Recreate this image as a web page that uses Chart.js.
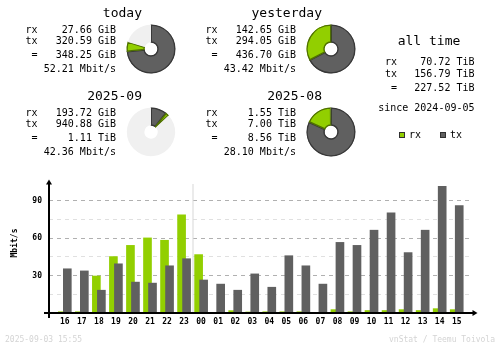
<!DOCTYPE html>
<html>
<head>
<meta charset="utf-8">
<script src="https://cdn.jsdelivr.net/npm/chart.js@4"></script>
<style>
  body { margin: 0; background: #fff; }
  #page { position: relative; width: 500px; height: 348px; background: #fff; overflow: hidden; }
  #page canvas { position: absolute; }
  .txt { position: absolute; white-space: pre; line-height: 1; font-family: "DejaVu Sans Mono", monospace; color: #000; }
  .key { position: absolute; width: 4px; height: 4px; border: 1px solid #303030; }
</style>
</head>
<body>
<div id="page">
  <canvas id="rateChart" width="500" height="348" style="left:0;top:0"></canvas>
</div>
<script>
// hourly rates, Mbit/s
const hours = ['16', '17', '18', '19', '20', '21', '22', '23', '00', '01', '02', '03',
               '04', '05', '06', '07', '08', '09', '10', '11', '12', '13', '14', '15'];
const rxMbit = [1, 1, 29.7, 45.3, 54.3, 60.3, 58.4, 78.8, 46.9, 0, 1.9, 0.8,
                1, 1, 1, 0, 2.7, 1, 2, 2, 2.7, 2, 3.5, 2.7];
const txMbit = [35.5, 33.8, 18.3, 39.5, 24.8, 24, 37.9, 43.6, 26.5, 23.2, 18.3, 31.4,
                20.7, 46, 37.9, 23.2, 56.7, 54.3, 66.5, 80.4, 48.5, 66.5, 101.7, 86.2];
const yTicks = [15, 30, 45, 60, 75, 90];
const yLabelled = [30, 60, 90];

// summary panels
const periodTitles = ['today', 'yesterday', '2025-09', '2025-08'];
const periodRx = ['27.66 GiB', '142.65 GiB', '193.72 GiB', '1.55 TiB'];
const periodTx = ['320.59 GiB', '294.05 GiB', '940.88 GiB', '7.00 TiB'];
const periodTotal = ['348.25 GiB', '436.70 GiB', '1.11 TiB', '8.56 TiB'];
const periodRate = ['52.21 Mbit/s', '43.42 Mbit/s', '42.36 Mbit/s', '28.10 Mbit/s'];

const allTimeRx = '70.72 TiB';
const allTimeTx = '156.79 TiB';
const allTimeTotal = '227.52 TiB';
const allTimeSince = '2024-09-05';
const stamp = '2025-09-03 15:55';
const credit = 'vnStat / Teemu Toivola';

const RX_COLOR = '#92cf00';
const TX_COLOR = '#606060';
const MONO = '"DejaVu Sans Mono", monospace';

const page = document.getElementById('page');

// place a text; align: left / center / right at x, y is the vertical middle
const addText = (text, x, y, size, align = 'left', color = '#000', weight = 'normal') => {
    const el = document.createElement('div');
    el.className = 'txt';
    el.textContent = text;
    el.style.fontSize = size + 'px';
    el.style.fontWeight = weight;
    el.style.color = color;
    el.style.top = y + 'px';
    el.style.left = x + 'px';
    const dx = align === 'right' ? '-100%' : align === 'center' ? '-50%' : '0';
    el.style.transform = `translate(${dx}, -50%)`;
    page.appendChild(el);
};

const toGiB = (s) => {
    const [num, unit] = s.split(' ');
    return parseFloat(num) * (unit === 'TiB' ? 1024 : 1);
};

// --- summary blocks with doughnuts ---
const panelPos = [[0, 0], [180, 0], [0, 83], [180, 83]];

periodTitles.forEach((title, i) => {
    const [px, py] = panelPos[i];
    addText(title, px + 142, py + 12, 13, 'right');
    addText('rx', px + 37.5, py + 29.5, 10, 'right');
    addText('tx', px + 37.5, py + 41, 10, 'right');
    addText('=', px + 37.5, py + 54.5, 10, 'right');
    addText(periodRx[i], px + 116, py + 29.5, 10, 'right');
    addText(periodTx[i], px + 116, py + 41, 10, 'right');
    addText(periodTotal[i], px + 116, py + 54.5, 10, 'right');
    addText(periodRate[i], px + 116, py + 69, 10, 'right');

    // each pair (days, months) is drawn against the bigger total of the two
    const first = i - (i % 2);
    const ref = Math.max(toGiB(periodTotal[first]), toGiB(periodTotal[first + 1]));
    const tx = toGiB(periodTx[i]);
    const rx = toGiB(periodRx[i]);

    const cv = document.createElement('canvas');
    cv.width = 52;
    cv.height = 52;
    cv.style.left = (px + 150.7 - 26) + 'px';
    cv.style.top = (py + 48.8 - 26) + 'px';
    page.appendChild(cv);

    new Chart(cv, {
        type: 'doughnut',
        data: {
            labels: ['tx', 'rx', ''],
            datasets: [{
                data: [tx, rx, Math.max(ref - tx - rx, 0)],
                backgroundColor: [TX_COLOR, RX_COLOR, '#f0f0f0'],
                borderColor: ['#383838', '#4f7000', '#f0f0f0'],
                borderWidth: [1, 1, 0],
                borderAlign: 'inner'
            }]
        },
        options: {
            responsive: false,
            animation: false,
            devicePixelRatio: 1,
            events: [],
            radius: 24.5,
            cutout: 6.7,
            plugins: { legend: { display: false }, tooltip: { enabled: false } }
        }
    });
});

// all time block
addText('all time', 429, 39.5, 13, 'center');
addText('rx', 397, 61.7, 10, 'right');
addText('tx', 397, 74, 10, 'right');
addText('=', 397, 87.5, 10, 'right');
addText(allTimeRx, 474.5, 61.7, 10, 'right');
addText(allTimeTx, 474.5, 74, 10, 'right');
addText(allTimeTotal, 474.5, 87.5, 10, 'right');
addText('since ' + allTimeSince, 474.5, 107.7, 10, 'right');

// legend
[['rx', RX_COLOR, 399], ['tx', TX_COLOR, 440]].forEach(([name, color, x]) => {
    const sq = document.createElement('div');
    sq.className = 'key';
    sq.style.left = x + 'px';
    sq.style.top = '132px';
    sq.style.background = color;
    page.appendChild(sq);
    addText(name, x + 10, 135, 10, 'left');
});

// footer
addText(stamp, 5, 340, 8, 'left', '#d4d4d4');
addText(credit, 495, 340, 8, 'right', '#d4d4d4');

// --- hourly bar chart ---
const axisDecor = {
    id: 'axisDecor',
    beforeDatasetsDraw(chart) {
        // light day separator between 23 and 00
        const { ctx, chartArea, scales } = chart;
        const sep = scales.x.getPixelForValue(hours.indexOf('00') - 0.5);
        ctx.save();
        ctx.fillStyle = '#d8d8d8';
        ctx.fillRect(Math.round(sep) - 0.5, chartArea.top + 3, 1, chartArea.bottom - chartArea.top - 3);
        ctx.restore();
    },
    afterDraw(chart) {
        const { ctx, chartArea } = chart;
        const left = chartArea.left - 1;
        const bottom = chartArea.bottom - 1;
        ctx.save();
        ctx.fillStyle = '#000';
        ctx.fillRect(left, chartArea.top + 2, 2, bottom - chartArea.top + 2 + 4 - 2);
        ctx.fillRect(left - 4, bottom, chartArea.right - left + 4, 2);
        // arrow heads
        ctx.beginPath();
        ctx.moveTo(left + 1, chartArea.top - 1.5);
        ctx.lineTo(left - 2, chartArea.top + 3.5);
        ctx.lineTo(left + 4, chartArea.top + 3.5);
        ctx.closePath();
        ctx.fill();
        ctx.beginPath();
        ctx.moveTo(chartArea.right + 4.5, bottom + 1);
        ctx.lineTo(chartArea.right - 0.5, bottom - 2);
        ctx.lineTo(chartArea.right - 0.5, bottom + 4);
        ctx.closePath();
        ctx.fill();
        // y title
        ctx.translate(15, 243);
        ctx.rotate(-Math.PI / 2);
        ctx.font = 'bold 8px ' + MONO;
        ctx.textAlign = 'center';
        ctx.textBaseline = 'middle';
        ctx.fillText('Mbit/s', 0, 0);
        ctx.restore();
    }
};

const barShift = 0.147; // rx sits a little left of the hour, tx a little right

new Chart(document.getElementById('rateChart'), {
    type: 'bar',
    data: {
        datasets: [{
            label: 'rx',
            data: rxMbit.map((v, i) => ({ x: i - barShift, y: v })),
            backgroundColor: RX_COLOR,
            barThickness: 8,
            grouped: false,
            order: 1
        }, {
            label: 'tx',
            data: txMbit.map((v, i) => ({ x: i + barShift, y: v })),
            backgroundColor: TX_COLOR,
            barThickness: 8,
            grouped: false,
            order: 0
        }]
    },
    options: {
        responsive: false,
        animation: false,
        devicePixelRatio: 1,
        events: [],
        layout: { padding: { top: 181, right: 27, left: 0, bottom: 0 } },
        plugins: { legend: { display: false }, tooltip: { enabled: false } },
        scales: {
            x: {
                type: 'linear',
                offset: false,
                min: -0.927,
                max: 23.955,
                afterFit: (scale) => { scale.height = 35; },
                afterBuildTicks: (scale) => { scale.ticks = hours.map((h, i) => ({ value: i })); },
                grid: { display: false, drawTicks: false },
                border: { display: false },
                ticks: {
                    autoSkip: false,
                    maxRotation: 0,
                    padding: 4,
                    color: '#000',
                    font: { family: MONO, size: 8, weight: 'bold' },
                    callback: (v) => hours[v] ?? ''
                }
            },
            y: {
                min: 0,
                max: 106,
                afterFit: (scale) => { scale.width = 49; },
                afterBuildTicks: (scale) => { scale.ticks = yTicks.map(v => ({ value: v })); },
                grid: {
                    drawTicks: false,
                    color: (c) => yLabelled.includes(c.tick && c.tick.value) ? '#b0b0b0' : '#e0e0e0'
                },
                border: { display: false, dash: [4, 4] },
                ticks: {
                    padding: 7,
                    color: '#000',
                    font: { family: MONO, size: 8, weight: 'bold' },
                    callback: (v) => yLabelled.includes(v) ? String(v) : ''
                }
            }
        }
    },
    plugins: [axisDecor]
});
</script>
</body>
</html>
